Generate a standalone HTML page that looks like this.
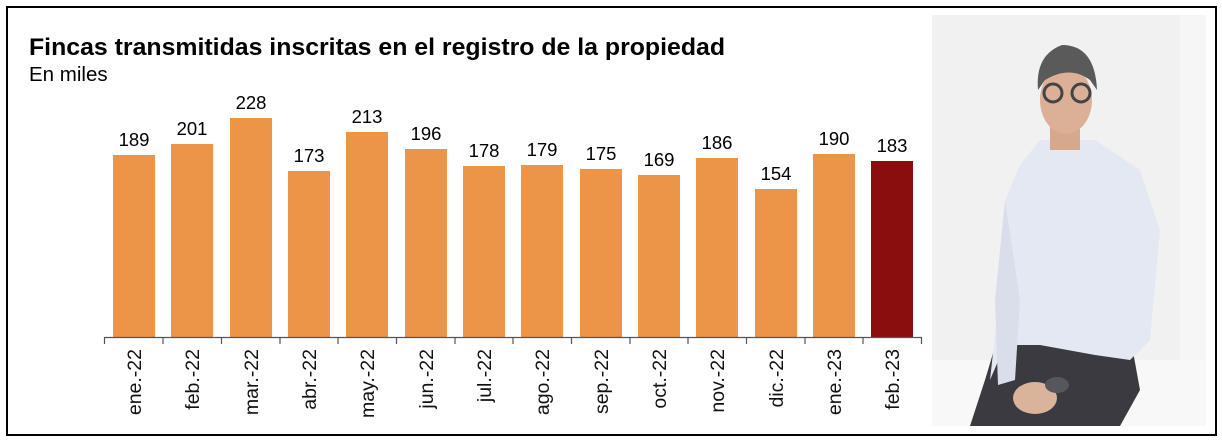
<!DOCTYPE html>
<html><head><meta charset="utf-8"><style>
body{margin:0;width:1222px;height:443px;background:#fff;position:relative;overflow:hidden;font-family:"Liberation Sans",Arial,sans-serif}
.frame{position:absolute;left:6px;top:6px;width:1207px;height:426px;border:2px solid #000}
</style></head><body>
<div class="frame"></div>
<svg width="1222" height="443" style="position:absolute;left:0;top:0">
<text x="29" y="55" font-size="24.5" font-weight="bold" fill="#000" textLength="696" lengthAdjust="spacingAndGlyphs">Fincas transmitidas inscritas en el registro de la propiedad</text>
<text x="29" y="81" font-size="20.5" fill="#000">En miles</text>
<g font-size="18.5" text-anchor="middle" fill="#000">
<rect x="113" y="155" width="42" height="182" fill="#ec9549"/><text x="134" y="169" dy="-23">189</text>
<rect x="171" y="144" width="42" height="193" fill="#ec9549"/><text x="192" y="135">201</text>
<rect x="230" y="118" width="42" height="219" fill="#ec9549"/><text x="251" y="109">228</text>
<rect x="288" y="171" width="42" height="166" fill="#ec9549"/><text x="309" y="162">173</text>
<rect x="346" y="132" width="42" height="205" fill="#ec9549"/><text x="367" y="123">213</text>
<rect x="405" y="149" width="42" height="188" fill="#ec9549"/><text x="426" y="140">196</text>
<rect x="463" y="166" width="42" height="171" fill="#ec9549"/><text x="484" y="157">178</text>
<rect x="521" y="165" width="42" height="172" fill="#ec9549"/><text x="542" y="156">179</text>
<rect x="580" y="169" width="42" height="168" fill="#ec9549"/><text x="601" y="160">175</text>
<rect x="638" y="175" width="42" height="162" fill="#ec9549"/><text x="659" y="166">169</text>
<rect x="696" y="158" width="42" height="179" fill="#ec9549"/><text x="717" y="149">186</text>
<rect x="755" y="189" width="42" height="148" fill="#ec9549"/><text x="776" y="180">154</text>
<rect x="813" y="154" width="42" height="183" fill="#ec9549"/><text x="834" y="145">190</text>
<rect x="871" y="161" width="42" height="176" fill="#8b0e0e"/><text x="892" y="152">183</text>
</g>
<line x1="104" y1="337.5" x2="922" y2="337.5" stroke="#555" stroke-width="1.2"/>
<g stroke="#555" stroke-width="1.2">
<line x1="104.5" y1="337" x2="104.5" y2="344"/><line x1="163" y1="337" x2="163" y2="344"/><line x1="221.5" y1="337" x2="221.5" y2="344"/><line x1="280" y1="337" x2="280" y2="344"/><line x1="338" y1="337" x2="338" y2="344"/><line x1="396.5" y1="337" x2="396.5" y2="344"/><line x1="455" y1="337" x2="455" y2="344"/><line x1="513" y1="337" x2="513" y2="344"/><line x1="571.5" y1="337" x2="571.5" y2="344"/><line x1="630" y1="337" x2="630" y2="344"/><line x1="688" y1="337" x2="688" y2="344"/><line x1="746.5" y1="337" x2="746.5" y2="344"/><line x1="805" y1="337" x2="805" y2="344"/><line x1="863" y1="337" x2="863" y2="344"/><line x1="921.5" y1="337" x2="921.5" y2="344"/>
</g>
<g font-size="19.5" text-anchor="end" fill="#111">
<text transform="translate(141,349) rotate(-90)">ene.-22</text>
<text transform="translate(199,349) rotate(-90)">feb.-22</text>
<text transform="translate(258,349) rotate(-90)">mar.-22</text>
<text transform="translate(316,349) rotate(-90)">abr.-22</text>
<text transform="translate(374,349) rotate(-90)">may.-22</text>
<text transform="translate(433,349) rotate(-90)">jun.-22</text>
<text transform="translate(491,349) rotate(-90)">jul.-22</text>
<text transform="translate(549,349) rotate(-90)">ago.-22</text>
<text transform="translate(608,349) rotate(-90)">sep.-22</text>
<text transform="translate(666,349) rotate(-90)">oct.-22</text>
<text transform="translate(724,349) rotate(-90)">nov.-22</text>
<text transform="translate(783,349) rotate(-90)">dic.-22</text>
<text transform="translate(841,349) rotate(-90)">ene.-23</text>
<text transform="translate(899,349) rotate(-90)">feb.-23</text>
</g>
<!-- photo -->
<rect x="932" y="15" width="274" height="411" fill="#f1f1f1"/>
<rect x="1180" y="15" width="26" height="411" fill="#f6f6f6"/>
<rect x="932" y="360" width="274" height="66" fill="#f8f8f8"/>
<path d="M1000 330 L1130 335 L1140 390 L1120 426 L970 426 L985 380 Z" fill="#3a3a40"/>
<path d="M1040 140 L1095 140 L1140 170 L1160 230 L1150 340 L1130 360 L1095 355 L1040 345 L1005 345 L990 380 L1000 290 L1005 200 L1020 165 Z" fill="#e4e8f2"/>
<path d="M1005 200 L995 300 L998 385 L1015 380 L1020 300 Z" fill="#d9deea"/>
<ellipse cx="1035" cy="398" rx="22" ry="16" fill="#d9b39a"/>
<ellipse cx="1057" cy="385" rx="12" ry="8" fill="#55575c"/>
<rect x="1050" y="120" width="30" height="30" fill="#d6a98e"/>
<ellipse cx="1066" cy="100" rx="26" ry="34" fill="#dcb096"/>
<path d="M1038 90 Q1035 55 1062 45 Q1095 45 1097 90 L1090 80 Q1070 65 1045 80 Z" fill="#5a5a5a"/>
<circle cx="1053" cy="93" r="9" fill="none" stroke="#444" stroke-width="3"/>
<circle cx="1081" cy="93" r="9" fill="none" stroke="#444" stroke-width="3"/>
</svg>
</body></html>
